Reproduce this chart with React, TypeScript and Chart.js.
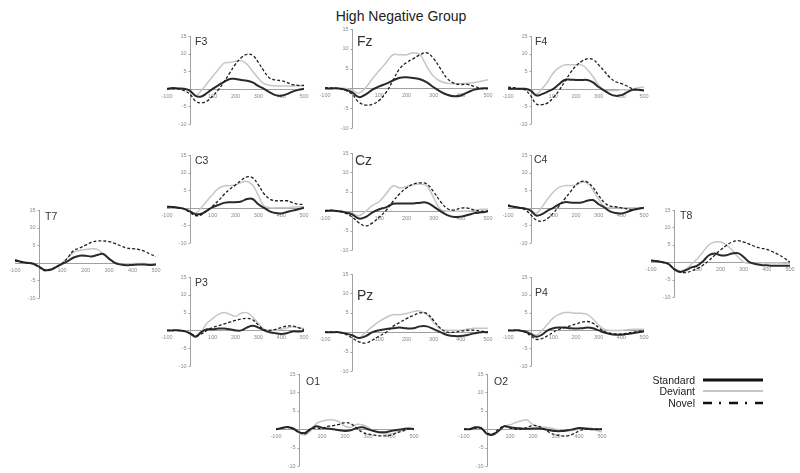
import React, { useEffect, useRef } from "react";
import { Chart, registerables } from "chart.js";

Chart.register(...registerables);

// ---------- data ----------
const TITLE = "High Negative Group";
const SERIES_NAMES = ["Standard", "Deviant", "Novel"];
const TIMES = [-100, -75, -50, -25, 0, 25, 50, 75, 100, 125, 150, 175, 200, 225, 250, 275, 300, 325, 350, 375, 400, 425, 450, 475, 500];
const X_TICKS = [-100, 100, 200, 300, 400, 500];
const Y_TICKS = [-10, -5, 5, 10, 15];

const F3_STD = [0, 0.2, 0.1, 0, -0.5, -2, -2.2, -1.2, 0, 1, 2, 2.8, 2.8, 2.5, 2.3, 1.8, 0.8, 0, -1, -1.8, -2, -1.5, -0.8, -0.3, 0];
const F3_DEV = [0, 0, 0, 0, -0.5, -2, -0.5, 1.5, 3.5, 5.5, 7.3, 7.5, 7.8, 8, 7, 5, 3, 1.5, 1, 0.8, 0.8, 0.8, 0.8, 0.8, 0.8];
const F3_NOV = [0, 0, 0, -0.5, -1.5, -3.5, -4, -3.5, -2, -0.3, 2, 4.5, 7, 8.8, 9.8, 9.5, 7.5, 5, 3, 2.5, 2.3, 1.8, 1.2, 1, 1];

const FZ_STD = [0, 0, 0, -0.3, -1, -2.2, -1.5, -0.3, 0.5, 1.2, 2, 2.7, 2.8, 2.6, 2.3, 1.5, 0.3, -0.8, -1.6, -2, -1.8, -1, -0.3, 0, 0];
const FZ_DEV = [0, 0, 0, 0, -0.5, -1.2, 0.2, 2.5, 4.5, 6.5, 8.5, 8.5, 8.5, 9, 8.5, 5.5, 3, 1.8, 1.3, 1.2, 1.2, 1.3, 1.5, 1.8, 2.2];
const FZ_NOV = [0.2, 0.1, 0, -0.5, -1.5, -3.5, -4.2, -4, -3, -1, 2, 5, 6.5, 7.5, 8.5, 9, 7.5, 5, 2.5, 1.3, 1, 1, 0.5, 0, 0];

const F4_STD = [0, 0, 0, 0, -0.5, -1.9, -1.5, -0.8, 0, 1.3, 2.5, 2.6, 2.5, 2.5, 2.5, 1.8, 0.5, -0.5, -1.5, -2, -1.8, -1, -0.3, -0.3, -0.5];
const F4_DEV = [0, 0, 0, 0, -0.3, -1.5, 0, 2, 4.5, 6, 6.8, 6.8, 6.8, 6.8, 5.5, 3.5, 1, -0.3, -0.5, -0.5, -0.3, -0.3, 0, 0.3, 0.5];
const F4_NOV = [0.5, 0.3, 0, -0.3, -2, -4.3, -4.5, -4, -2.5, -0.5, 2, 4.5, 6.5, 7.8, 8.5, 8.3, 6.8, 5, 3.2, 2, 1.5, 0.8, 0, -0.2, -0.3];

const T7_STD = [0.8, 0.3, 0, -0.2, -1, -2, -2, -1.2, -0.3, 0.5, 1.5, 2, 2, 1.8, 2.2, 2.5, 1.2, 0, -0.5, -0.7, -0.6, -0.5, -0.5, -0.6, -0.5];
const T7_DEV = [0.5, 0.2, 0, -0.3, -1, -2, -1.8, -1, 0, 1.5, 3, 3.5, 3.8, 4, 3.8, 2.5, 1, 0, -0.3, -0.3, -0.2, -0.2, -0.2, -0.3, -0.3];
const T7_NOV = [0.5, 0.3, 0, -0.3, -1.2, -2.2, -2, -1.2, -0.3, 1.5, 3.5, 4.2, 5, 5.8, 6.2, 6.2, 6, 5.5, 4.8, 4.2, 4, 3.8, 3.3, 2.5, 1.8];

const T8_STD = [0.5, 0.3, 0, -0.5, -2, -2.8, -2.3, -1.5, -1, 0.3, 2, 2.5, 2, 2, 2.5, 2.6, 1.5, 0, -0.5, -0.8, -0.9, -1, -1, -1, -1];
const T8_DEV = [0.3, 0.2, 0, -0.5, -1.8, -2.5, -2, -0.5, 1, 3, 5, 5.8, 5.8, 5, 3.5, 1.5, 0, -0.3, -0.3, -0.2, -0.2, -0.2, -0.2, -0.3, -0.3];
const T8_NOV = [0.5, 0.3, 0, -0.5, -2, -2.8, -3, -2.5, -1.8, -0.8, 0.5, 2, 3.5, 4.8, 5.8, 6.2, 5.8, 5.2, 4.5, 4, 3.7, 3, 2.2, 1.2, 0];

const C3_STD = [0.3, 0.2, 0, -0.3, -1, -1.8, -1.7, -0.8, 0.2, 0.8, 1.4, 1.6, 1.6, 1.8, 2.5, 2.5, 1, 0, -1, -1.5, -1.6, -1.2, -0.8, -0.4, 0];
const C3_DEV = [0.2, 0, 0, -0.3, -1, -1.5, 0, 2, 3.8, 5.5, 6.2, 6.3, 6.5, 7.2, 7.5, 6.5, 3.5, 0.5, 0, 0, 0, 0, 0.2, 0.3, 0.3];
const C3_NOV = [0.3, 0.2, 0, -0.3, -1.3, -2.2, -2, -0.8, 0.5, 2, 3.8, 5.3, 6.5, 7.8, 8.8, 8.5, 6.5, 4, 2.5, 2, 2, 2, 1.5, 1, 1];

const CZ_STD = [0, 0.2, 0, -0.3, -0.8, -1.9, -1.5, -0.3, 0.5, 1, 1.9, 2, 2, 2, 2.2, 2.2, 1.2, 0, -1, -1.5, -1.4, -1, -0.5, -0.3, 0];
const CZ_DEV = [0, 0.2, 0, -0.3, -0.5, -1.2, 0, 1.5, 2.5, 4.5, 6.5, 6, 6.3, 6.8, 7, 6.5, 3.5, 0.5, 0, 0, 0, 0, 0.2, 0.5, 0.5];
const CZ_NOV = [0.2, 0.2, 0, -0.5, -1.5, -3, -3.8, -3, -1.5, 0.2, 2.5, 4.5, 6, 7, 7.3, 7, 5, 2.5, 0.7, 0.3, 0.8, 0.8, 0.3, 0, 0];

const C4_STD = [0.5, 0.3, 0, -0.2, -0.8, -2.2, -1.8, -0.8, 0, 1, 1.6, 1.5, 1.4, 1.5, 2, 2.2, 1, 0.1, -1, -1.5, -1.6, -1.2, -0.6, -0.3, 0];
const C4_DEV = [0.5, 0.3, 0, -0.2, -0.8, -1.5, 0.2, 2.5, 4.5, 5.8, 6.3, 6.3, 6.5, 7.3, 7, 5, 2.5, 0.3, 0, 0, 0, 0, 0, 0, 0];
const C4_NOV = [0.8, 0.3, 0, -0.5, -2, -3.5, -3.8, -3, -1.5, 0.5, 2.5, 4.5, 6.5, 7.5, 7.3, 5.8, 3.5, 1.5, 0.5, 0.3, 0, -0.3, -0.5, -0.3, 0];

const P3_STD = [0, 0, 0, -0.2, -0.8, -1.8, -0.5, 0.3, 0.3, 0.5, 0.5, 0.3, 0, 0, 0.8, 1.3, 0.8, 0, -0.5, -0.8, -1, -0.8, -0.3, -0.3, -0.2];
const P3_DEV = [0, 0, 0, -0.2, -0.8, -1.5, -0.3, 2, 3.3, 4.5, 5, 4.5, 4, 4.8, 5, 3.8, 2, 0.3, 0, 0, 0.3, 0.7, 1, 0.8, 0.5];
const P3_NOV = [0, 0, 0, -0.2, -0.8, -1.5, -1, 0, 0.8, 1.3, 1.8, 2.3, 2.8, 3.2, 3.4, 3, 1.5, 0.2, 0, 0.3, 0.8, 1.2, 1.2, 0.8, 0.2];

const PZ_STD = [0, 0, 0, -0.3, -0.8, -1.5, -1, 0, 0.5, 0.8, 1, 1.2, 1, 1, 1.5, 1.5, 0.8, 0, -0.7, -1, -1, -0.7, -0.3, 0, 0];
const PZ_DEV = [0, 0, 0, -0.3, -0.8, -1.5, 0, 1.5, 2.8, 3.8, 4.5, 4.5, 4.8, 5.3, 5.5, 4.5, 2.5, 0.8, 0.5, 0.5, 0.5, 0.8, 1, 1, 1];
const PZ_NOV = [0, 0, 0, -0.5, -1.5, -2.5, -2.8, -2, -1, 0, 1.5, 2.5, 3.5, 4.3, 5, 4.8, 3, 1, 0, 0, 0.3, 0.5, 0.5, 0.3, 0];

const P4_STD = [0, 0, 0, -0.3, -1, -1.8, -1.2, 0, 0.6, 0.8, 0.8, 0.6, 0.5, 0.6, 0.8, 0.6, 0, -0.6, -1, -1.2, -1.2, -1, -0.8, -0.5, -0.3];
const P4_DEV = [0, 0, 0, -0.3, -0.8, -1.3, 0, 1.8, 3.5, 4.5, 5, 5, 4.8, 4.8, 4.5, 3.2, 1.5, 0.3, 0, 0, 0, 0.2, 0.3, 0.3, 0.3];
const P4_NOV = [0, 0, 0, -0.5, -1.5, -2.5, -2.3, -1.5, -0.5, 0.3, 0.8, 1.3, 1.8, 2.3, 2.5, 2, 0.8, -0.3, -0.8, -1, -1, -0.8, -0.5, -0.3, 0];

const O1_STD = [0, 0.3, 0.6, 0.2, -0.8, -1, 0, 0.8, 0.4, 0.2, 0, -0.3, -0.5, -0.3, 0.3, 0.5, 0, -0.5, -0.8, -0.8, -0.5, -0.2, 0, 0.2, 0];
const O1_DEV = [0, 0.3, 0.5, 0, -1, -1.6, -0.5, 1.5, 2.2, 2.5, 2.5, 2, 0.8, 0.5, 1.3, 1.2, 0.5, -0.5, -1, -1.3, -1.3, -0.8, -0.3, 0, 0];
const O1_NOV = [0, 0.2, 0.5, 0, -0.8, -1.3, 0, 0.3, 0.2, 0.8, 1, 1.3, 1.8, 1.5, 0.3, -0.8, -1.3, -1.6, -1.8, -1.8, -1.6, -1, -0.5, 0, 0];

const O2_STD = [0, 0, 0.5, 0.3, -1.3, -1.5, -0.5, 0.8, 0.5, 0.3, 0.2, 0.1, 0.2, 0.2, 0, -0.3, -0.5, -0.5, -0.3, 0, 0.3, 0.2, 0, 0, 0];
const O2_DEV = [0, 0, 0.5, 0.3, -1, -1.3, -0.3, 0.8, 1.2, 1.8, 2.3, 2.5, 1.2, 0.6, 0.5, 0.3, 0, -0.3, -0.5, -0.3, 0, 0.3, 0.3, -0.3, -0.8];
const O2_NOV = [0, 0, 0.3, 0.2, -1, -1.3, 0, 0.8, 0.3, 0, 0, 0.5, 1, 0.8, 0, -1, -1.5, -1.8, -1.8, -1.3, -0.5, 0, 0, 0, 0];

// ---------- layout (pixel geometry, kept apart from data) ----------
type Box = { l: number; r: number; t: number; b: number; lx: number; ly: number; fs: number };
type PanelDef = { name: string; std: number[]; dev: number[]; nov: number[]; box: Box };

const PANELS: PanelDef[] = [
  { name: "F3", std: F3_STD, dev: F3_DEV, nov: F3_NOV, box: { l: 167, r: 304, t: 36, b: 124, lx: 195, ly: 37, fs: 10.5 } },
  { name: "Fz", std: FZ_STD, dev: FZ_DEV, nov: FZ_NOV, box: { l: 325, r: 488, t: 29, b: 128, lx: 357, ly: 36, fs: 14 } },
  { name: "F4", std: F4_STD, dev: F4_DEV, nov: F4_NOV, box: { l: 508, r: 644, t: 36, b: 124, lx: 535, ly: 37, fs: 10.5 } },
  { name: "T7", std: T7_STD, dev: T7_DEV, nov: T7_NOV, box: { l: 15, r: 156, t: 210, b: 298, lx: 45, ly: 212, fs: 10.5 } },
  { name: "C3", std: C3_STD, dev: C3_DEV, nov: C3_NOV, box: { l: 167, r: 304, t: 155, b: 243, lx: 195, ly: 156, fs: 10.5 } },
  { name: "Cz", std: CZ_STD, dev: CZ_DEV, nov: CZ_NOV, box: { l: 325, r: 488, t: 153, b: 250, lx: 355, ly: 155, fs: 14 } },
  { name: "C4", std: C4_STD, dev: C4_DEV, nov: C4_NOV, box: { l: 508, r: 644, t: 155, b: 243, lx: 534, ly: 155, fs: 10.5 } },
  { name: "T8", std: T8_STD, dev: T8_DEV, nov: T8_NOV, box: { l: 651, r: 790, t: 210, b: 297, lx: 680, ly: 211, fs: 10.5 } },
  { name: "P3", std: P3_STD, dev: P3_DEV, nov: P3_NOV, box: { l: 167, r: 304, t: 277, b: 366, lx: 195, ly: 278, fs: 10.5 } },
  { name: "Pz", std: PZ_STD, dev: PZ_DEV, nov: PZ_NOV, box: { l: 325, r: 488, t: 274, b: 371, lx: 357, ly: 290, fs: 14 } },
  { name: "P4", std: P4_STD, dev: P4_DEV, nov: P4_NOV, box: { l: 508, r: 644, t: 277, b: 366, lx: 535, ly: 288, fs: 10.5 } },
  { name: "O1", std: O1_STD, dev: O1_DEV, nov: O1_NOV, box: { l: 276, r: 414, t: 374, b: 466, lx: 306, ly: 377, fs: 10.5 } },
  { name: "O2", std: O2_STD, dev: O2_DEV, nov: O2_NOV, box: { l: 464, r: 602, t: 374, b: 466, lx: 494, ly: 377, fs: 10.5 } },
];

const PAD_L = 12;
const PAD_R = 8;
const PAD_T = 5;
const PAD_B = 5;
const FONT = '"Liberation Sans", Arial, Helvetica, sans-serif';

const COLORS = { std: "#2a2a2a", dev: "#c6c6c6", nov: "#1e1e1e", axis: "#a0a0a0", tick: "#8a8a8a" };

const axesPlugin = {
  id: "erpAxes",
  beforeDatasetsDraw(chart: any) {
    const { ctx } = chart;
    const xs = chart.scales.x;
    const ys = chart.scales.y;
    const x0 = Math.round(xs.getPixelForValue(0)) + 0.5;
    const y0 = Math.round(ys.getPixelForValue(0)) + 0.5;
    ctx.save();
    ctx.strokeStyle = COLORS.axis;
    ctx.lineWidth = 1;
    ctx.beginPath();
    ctx.moveTo(xs.getPixelForValue(xs.min), y0);
    ctx.lineTo(xs.getPixelForValue(xs.max), y0);
    ctx.moveTo(x0, ys.getPixelForValue(ys.max));
    ctx.lineTo(x0, ys.getPixelForValue(ys.min));
    for (const v of Y_TICKS) {
      const py = Math.round(ys.getPixelForValue(v)) + 0.5;
      ctx.moveTo(x0 - 2, py);
      ctx.lineTo(x0, py);
    }
    ctx.stroke();
    ctx.fillStyle = COLORS.tick;
    ctx.font = `5.5px ${FONT}`;
    ctx.textAlign = "right";
    ctx.textBaseline = "middle";
    for (const v of Y_TICKS) {
      ctx.fillText(String(v), x0 - 4, ys.getPixelForValue(v));
    }
    ctx.textAlign = "center";
    for (const v of X_TICKS) {
      ctx.fillText(String(v), xs.getPixelForValue(v), y0 + 7);
    }
    ctx.restore();
  },
};

function ErpPanel({ p }: { p: PanelDef }) {
  const ref = useRef<HTMLCanvasElement>(null);
  const w = p.box.r - p.box.l + PAD_L + PAD_R;
  const h = p.box.b - p.box.t + PAD_T + PAD_B;
  useEffect(() => {
    const mk = (vals: number[]) => TIMES.map((t, i) => ({ x: t, y: vals[i] }));
    const chart = new Chart(ref.current!, {
      type: "line",
      data: {
        datasets: [
          { label: SERIES_NAMES[2], data: mk(p.nov), borderColor: COLORS.nov, borderWidth: 1.3, borderDash: [3, 2], pointRadius: 0, tension: 0.4, fill: false },
          { label: SERIES_NAMES[0], data: mk(p.std), borderColor: COLORS.std, borderWidth: 2, pointRadius: 0, tension: 0.4, fill: false },
          { label: SERIES_NAMES[1], data: mk(p.dev), borderColor: COLORS.dev, borderWidth: 1.5, pointRadius: 0, tension: 0.4, fill: false },
        ],
      },
      options: {
        responsive: false,
        animation: false,
        devicePixelRatio: 1,
        layout: { padding: { left: PAD_L, right: PAD_R, top: PAD_T, bottom: PAD_B } },
        plugins: { legend: { display: false }, tooltip: { enabled: false }, title: { display: false } },
        scales: {
          x: { type: "linear", min: X_TICKS[0], max: X_TICKS[X_TICKS.length - 1], display: false },
          y: { type: "linear", min: Y_TICKS[0], max: Y_TICKS[Y_TICKS.length - 1], display: false },
        },
      },
      plugins: [axesPlugin],
    } as any);
    return () => chart.destroy();
  }, []);
  return (
    <>
      <canvas
        ref={ref}
        width={w}
        height={h}
        style={{ position: "absolute", left: p.box.l - PAD_L, top: p.box.t - PAD_T, width: w, height: h }}
      />
      <div
        style={{
          position: "absolute",
          left: p.box.lx,
          top: p.box.ly - 0.13 * p.box.fs,
          fontSize: p.box.fs,
          lineHeight: `${p.box.fs}px`,
          fontFamily: FONT,
          color: "#333",
          whiteSpace: "nowrap",
        }}
      >
        {p.name}
      </div>
    </>
  );
}

function Legend() {
  const rows = [
    { name: SERIES_NAMES[0], y: 380, stroke: "#111", width: 3, dash: undefined as string | undefined },
    { name: SERIES_NAMES[1], y: 391, stroke: "#c6c6c6", width: 2, dash: undefined },
    { name: SERIES_NAMES[2], y: 403, stroke: "#111", width: 2.5, dash: "9 7 2 8" },
  ];
  return (
    <>
      {rows.map((r) => (
        <div
          key={r.name}
          style={{
            position: "absolute",
            right: 800 - 695,
            top: r.y - 6,
            fontSize: 10.5,
            lineHeight: "12px",
            fontFamily: FONT,
            color: "#222",
            whiteSpace: "nowrap",
          }}
        >
          {r.name}
        </div>
      ))}
      <svg width={800} height={473} style={{ position: "absolute", left: 0, top: 0, pointerEvents: "none" }}>
        {rows.map((r) => (
          <line key={r.name} x1={703} x2={763} y1={r.y} y2={r.y} stroke={r.stroke} strokeWidth={r.width} strokeDasharray={r.dash} />
        ))}
      </svg>
    </>
  );
}

export default function App() {
  return (
    <div style={{ position: "absolute", left: 0, top: 0, width: 800, height: 473, background: "#fff", overflow: "hidden" }}>
      <div
        style={{
          position: "absolute",
          left: 0,
          width: 802,
          top: 8,
          textAlign: "center",
          fontSize: 14,
          lineHeight: "16px",
          fontFamily: FONT,
          color: "#222",
        }}
      >
        {TITLE}
      </div>
      {PANELS.map((p) => (
        <ErpPanel key={p.name} p={p} />
      ))}
      <Legend />
    </div>
  );
}
